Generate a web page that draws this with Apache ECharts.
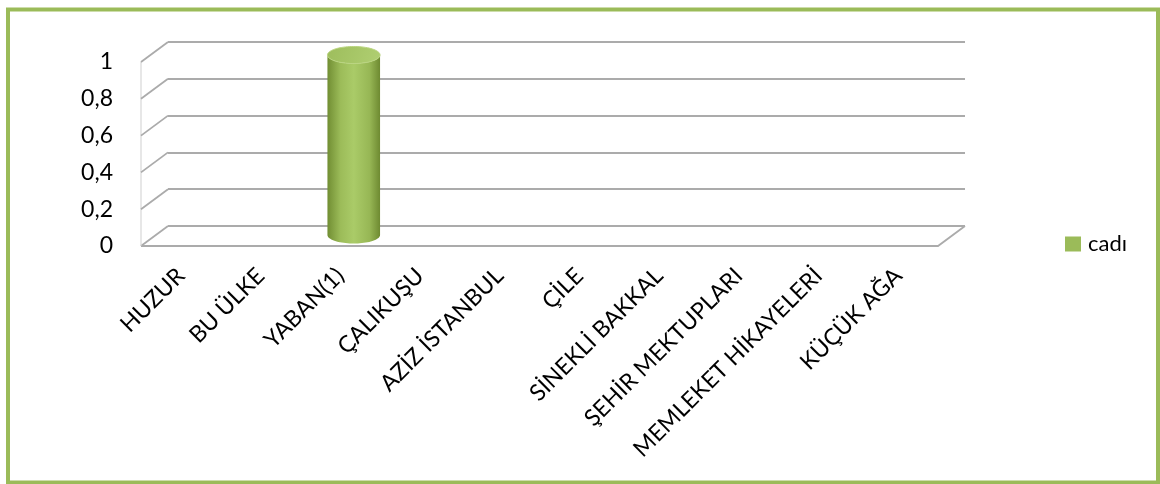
<!DOCTYPE html>
<html>
<head>
<meta charset="utf-8">
<script src="https://cdn.jsdelivr.net/npm/echarts@6/dist/echarts.min.js"></script>
<style>
  html, body { margin: 0; padding: 0; background: #ffffff; }
  #chart { width: 1160px; height: 484px; }
</style>
</head>
<body>
<div id="chart"></div>
<script>
// Data
const categories = ['HUZUR', 'BU ÜLKE', 'YABAN(1)', 'ÇALIKUŞU', 'AZİZ İSTANBUL', 'ÇİLE',
  'SİNEKLİ BAKKAL', 'ŞEHİR MEKTUPLARI', 'MEMLEKET HİKAYELERİ', 'KÜÇÜK AĞA'];
const seriesName = 'cadı';
const cadiValues = [0, 0, 1, 0, 0, 0, 0, 0, 0, 0];
const yTicks = [0, 0.2, 0.4, 0.6, 0.8, 1];
const yTickLabels = ['0', '0,2', '0,4', '0,6', '0,8', '1'];

// Pseudo-3D layout: a front plane (axes + labels) and a back wall shifted by the depth offset
const DEPTH_X = 27;
const DEPTH_Y = -20;
const FRONT = { left: 141, top: 62, width: 797, height: 184 };
const BACK = { left: FRONT.left + DEPTH_X, top: FRONT.top + DEPTH_Y, width: FRONT.width, height: FRONT.height };

const FONT = 'Lato, "Open Sans", sans-serif';
const GRID_COLOR = '#ababab';
const GREEN = '#9BBB59';

function tickLabel(v) {
  const i = yTicks.findIndex(t => Math.abs(t - v) < 1e-9);
  return i >= 0 ? yTickLabels[i] : '';
}

function ellipsePoints(cx, cy, rx, ry, a0, a1, n) {
  const pts = [];
  for (let k = 0; k <= n; k++) {
    const a = a0 + (a1 - a0) * k / n;
    pts.push([cx + rx * Math.cos(a), cy + ry * Math.sin(a)]);
  }
  return pts;
}

// Side wall diagonals, front edge and floor outline
function renderFrame(params, api) {
  const cs = params.coordSys;
  const v = api.value(1);
  const y = api.coord([0, v])[1];
  const x0 = cs.x;
  const x1 = cs.x + cs.width;
  const style = { stroke: GRID_COLOR, lineWidth: 1.8, fill: null };
  const children = [{
    type: 'line',
    shape: { x1: x0, y1: y, x2: x0 + DEPTH_X, y2: y + DEPTH_Y },
    style: style
  }];
  if (v === yTicks[0]) {
    const yTop = api.coord([0, yTicks[yTicks.length - 1]])[1];
    children.push({
      type: 'polyline',
      shape: { points: [[x0, y], [x1, y], [x1 + DEPTH_X, y + DEPTH_Y]] },
      style: style
    });
    children.push({
      type: 'line',
      shape: { x1: x0, y1: y, x2: x0, y2: yTop },
      style: { stroke: '#cfcfcf', lineWidth: 1 }
    });
  }
  return { type: 'group', children: children };
}

// Cylinder column
function renderCylinder(params, api) {
  const idx = api.value(0);
  const v = api.value(1);
  if (!v) return null;
  const top = api.coord([idx, v]);
  const base = api.coord([idx, 0]);
  const band = api.size([1, 0])[0];
  const rx = band * 0.33;
  const ry = 8.5;
  const cx = top[0] + DEPTH_X * 0.5;
  const cyT = top[1] + DEPTH_Y * 0.35;
  const cyB = base[1] + DEPTH_Y * 0.55;

  const body = [[cx - rx, cyT]]
    .concat(ellipsePoints(cx, cyB, rx, ry, Math.PI, 0, 40))
    .concat(ellipsePoints(cx, cyT, rx, ry, 0, Math.PI, 40));
  const cap = ellipsePoints(cx, cyT, rx, ry, 0, Math.PI * 2, 80);

  return {
    type: 'group',
    children: [
      {
        type: 'polygon',
        shape: { points: body },
        style: {
          fill: {
            type: 'linear', x: 0, y: 0, x2: 1, y2: 0,
            colorStops: [
              { offset: 0, color: '#718e33' },
              { offset: 0.25, color: '#9cbc59' },
              { offset: 0.5, color: '#aacb68' },
              { offset: 0.8, color: '#97b755' },
              { offset: 1, color: '#6e8a31' }
            ]
          },
          stroke: null
        }
      },
      {
        type: 'polygon',
        shape: { points: cap },
        style: {
          fill: {
            type: 'linear', x: 0, y: 0, x2: 1, y2: 1,
            colorStops: [
              { offset: 0, color: '#9dbd5c' },
              { offset: 1, color: '#b0cf72' }
            ]
          },
          stroke: '#bad580',
          lineWidth: 1
        }
      }
    ]
  };
}

const chart = echarts.init(document.getElementById('chart'), null, { renderer: 'canvas' });

chart.setOption({
  animation: false,
  backgroundColor: '#ffffff',
  textStyle: { fontFamily: FONT },
  graphic: [{
    type: 'rect',
    silent: true,
    z: -10,
    shape: { x: 8, y: 9.5, width: 1150, height: 473 },
    style: { fill: null, stroke: GREEN, lineWidth: 4 }
  }],
  legend: {
    data: [seriesName],
    left: 1065,
    top: 233,
    padding: 0,
    orient: 'vertical',
    icon: 'rect',
    itemWidth: 16,
    itemHeight: 15,
    textStyle: { fontFamily: FONT, fontSize: 22, color: '#000', padding: [0, 0, 0, 2] }
  },
  grid: [
    Object.assign({ containLabel: false }, BACK),
    Object.assign({ containLabel: false }, FRONT)
  ],
  xAxis: [
    {
      gridIndex: 0, type: 'category', data: categories,
      axisLine: { show: false }, axisTick: { show: false }, axisLabel: { show: false }
    },
    {
      gridIndex: 1, type: 'category', data: categories,
      axisLine: { show: false }, axisTick: { show: false },
      axisLabel: {
        interval: 0, rotate: 45, margin: 26,
        fontFamily: FONT, fontSize: 23, color: '#000'
      }
    }
  ],
  yAxis: [
    {
      gridIndex: 0, type: 'value', min: 0, max: 1, interval: 0.2,
      axisLine: { show: false }, axisTick: { show: false }, axisLabel: { show: false },
      splitLine: { show: true, lineStyle: { color: GRID_COLOR, width: 1.8 } }
    },
    {
      gridIndex: 1, type: 'value', min: 0, max: 1, interval: 0.2,
      axisLine: { show: false }, axisTick: { show: false },
      splitLine: { show: false },
      axisLabel: {
        margin: 28, fontFamily: FONT, fontSize: 23, color: '#000',
        padding: [9, 0, 0, 0],
        formatter: tickLabel
      }
    }
  ],
  series: [
    {
      name: 'frame',
      type: 'custom',
      xAxisIndex: 1, yAxisIndex: 1,
      silent: true,
      renderItem: renderFrame,
      data: yTicks.map(v => [0, v]),
      z: 1
    },
    {
      name: seriesName,
      type: 'custom',
      xAxisIndex: 1, yAxisIndex: 1,
      itemStyle: { color: GREEN },
      renderItem: renderCylinder,
      data: cadiValues.map((v, i) => [i, v]),
      z: 3
    }
  ]
});
</script>
</body>
</html>
